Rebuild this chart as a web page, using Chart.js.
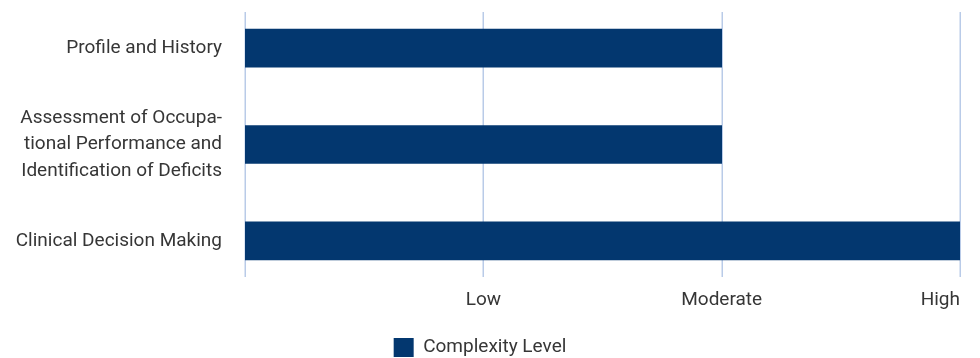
<!DOCTYPE html>
<html>
<head>
<meta charset="utf-8">
<script src="https://cdn.jsdelivr.net/npm/chart.js@4.4.1/dist/chart.umd.min.js"></script>
<style>
  html, body { margin: 0; padding: 0; background: #ffffff; }
  #wrap { width: 980px; height: 358px; position: relative; }
</style>
</head>
<body>
<div id="wrap"><canvas id="c"></canvas></div>
<script>
const categories = [
  'Profile and History',
  ['Assessment of Occupa-', 'tional Performance and', 'Identification of Deficits'],
  'Clinical Decision Making'
];
const complexityValues = [2, 2, 3];
const levelTickLabels = ['', 'Low', 'Moderate', 'High'];
const seriesName = 'Complexity Level';

const barColor = '#03376f';
const gridColor = '#b9cbe8';
const textColor = '#363636';
const fontFamily = 'Roboto, "Noto Sans", sans-serif';

const gridPlugin = {
  id: 'insetGrid',
  beforeDatasetsDraw(chart) {
    const { ctx, chartArea, scales } = chart;
    const x = scales.x;
    ctx.save();
    ctx.strokeStyle = gridColor;
    ctx.lineWidth = 1.5;
    x.ticks.forEach(t => {
      const px = Math.round(x.getPixelForValue(t.value)) + 0.25;
      ctx.beginPath();
      ctx.moveTo(px, chartArea.top + 12);
      ctx.lineTo(px, chartArea.bottom - 12);
      ctx.stroke();
    });
    ctx.restore();
  }
};

new Chart(document.getElementById('c'), {
  type: 'bar',
  data: {
    labels: categories,
    datasets: [{
      label: seriesName,
      data: complexityValues,
      backgroundColor: barColor,
      borderWidth: 0,
      barThickness: 38
    }]
  },
  options: {
    indexAxis: 'y',
    responsive: true,
    maintainAspectRatio: false,
    animation: false,
    layout: { padding: { top: 0, right: 20, left: 0, bottom: -9 } },
    scales: {
      x: {
        min: 0, max: 3,
        grid: { display: false, drawTicks: false },
        border: { display: false },
        ticks: {
          stepSize: 1,
          color: textColor,
          font: { family: fontFamily, size: 19 },
          padding: 0,
          align: 'inner',
          maxRotation: 0,
          callback: (v) => levelTickLabels[v]
        },
        afterFit: (s) => { s.height = 47; s.paddingLeft = 0; s.paddingRight = 0; }
      },
      y: {
        grid: { display: false, drawTicks: false },
        border: { display: false },
        ticks: {
          color: textColor,
          font: { family: fontFamily, size: 19, lineHeight: 1.4 },
          padding: 23
        },
        afterFit: (s) => { s.width = 245; s.paddingTop = 0; s.paddingBottom = 0; }
      }
    },
    plugins: {
      legend: {
        position: 'bottom',
        labels: {
          color: textColor,
          font: { family: fontFamily, size: 19 },
          boxWidth: 20,
          boxHeight: 19,
          padding: 2
        }
      },
      tooltip: { enabled: false }
    }
  },
  plugins: [gridPlugin]
});
</script>
</body>
</html>
